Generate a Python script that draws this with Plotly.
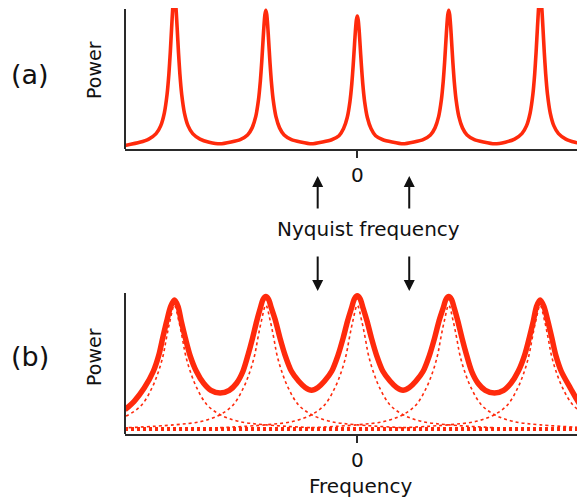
import plotly.graph_objects as go

# ---------------- data ----------------
# (a) narrow spectral peaks (frequency in units of peak spacing, power normalised)
top_freq = [-2.54, -2.38, -2.28, -2.20, -2.15, -2.11, -2.08, -2.06, -2.045, -2.03, -2.02, -2.01, -2.00,
            -1.99, -1.98, -1.97, -1.955, -1.94, -1.92, -1.89, -1.85, -1.80, -1.72, -1.62,
            -1.50,
            -1.38, -1.28, -1.20, -1.15, -1.11, -1.08, -1.06, -1.045, -1.03, -1.02, -1.01, -1.00,
            -0.99, -0.98, -0.97, -0.955, -0.94, -0.92, -0.89, -0.85, -0.80, -0.72, -0.62,
            -0.50,
            -0.38, -0.28, -0.20, -0.15, -0.11, -0.08, -0.06, -0.045, -0.03, -0.02, -0.01, 0.00,
            0.01, 0.02, 0.03, 0.045, 0.06, 0.08, 0.11, 0.15, 0.20, 0.28, 0.38,
            0.50,
            0.62, 0.72, 0.80, 0.85, 0.89, 0.92, 0.94, 0.955, 0.97, 0.98, 0.99, 1.00,
            1.01, 1.02, 1.03, 1.045, 1.06, 1.08, 1.11, 1.15, 1.20, 1.28, 1.38,
            1.50,
            1.62, 1.72, 1.80, 1.85, 1.89, 1.92, 1.94, 1.955, 1.97, 1.98, 1.99, 2.00,
            2.01, 2.02, 2.03, 2.045, 2.06, 2.08, 2.11, 2.15, 2.20, 2.28, 2.38, 2.49]
top_power = [0.025, 0.048, 0.071, 0.110, 0.165, 0.257, 0.390, 0.537, 0.689, 0.868, 0.983, 1.068, 1.10,
             1.068, 0.983, 0.868, 0.689, 0.537, 0.390, 0.257, 0.165, 0.110, 0.071, 0.049,
             0.037,
             0.050, 0.067, 0.100, 0.151, 0.233, 0.353, 0.485, 0.621, 0.782, 0.885, 0.961, 0.99,
             0.961, 0.885, 0.782, 0.621, 0.485, 0.353, 0.233, 0.151, 0.100, 0.067, 0.050,
             0.037,
             0.050, 0.066, 0.095, 0.146, 0.225, 0.340, 0.466, 0.597, 0.750, 0.850, 0.922, 0.95,
             0.922, 0.850, 0.750, 0.597, 0.466, 0.340, 0.225, 0.146, 0.095, 0.066, 0.050,
             0.037,
             0.050, 0.067, 0.100, 0.151, 0.233, 0.353, 0.485, 0.621, 0.782, 0.885, 0.961, 0.99,
             0.961, 0.885, 0.782, 0.621, 0.485, 0.353, 0.233, 0.151, 0.100, 0.067, 0.050,
             0.037,
             0.049, 0.071, 0.110, 0.165, 0.257, 0.390, 0.537, 0.689, 0.868, 0.983, 1.068, 1.10,
             1.068, 0.983, 0.868, 0.689, 0.537, 0.390, 0.257, 0.165, 0.110, 0.071, 0.048, 0.033]

# (b) broad peaks: total power
sum_freq = [-2.54, -2.44, -2.33, -2.23, -2.17, -2.128, -2.084, -2.04, -2.00,
            -1.96, -1.925, -1.88, -1.83, -1.76, -1.68, -1.60, -1.50,
            -1.40, -1.32, -1.25, -1.195, -1.145, -1.10, -1.06, -1.03, -1.00,
            -0.97, -0.94, -0.893, -0.845, -0.79, -0.72, -0.64, -0.57, -0.50,
            -0.43, -0.36, -0.28, -0.21, -0.155, -0.107, -0.063, -0.03, 0.00,
            0.03, 0.063, 0.107, 0.155, 0.21, 0.28, 0.36, 0.43, 0.50,
            0.57, 0.64, 0.72, 0.79, 0.845, 0.893, 0.94, 0.97, 1.00,
            1.03, 1.06, 1.10, 1.145, 1.195, 1.25, 1.32, 1.40, 1.50,
            1.60, 1.68, 1.76, 1.83, 1.88, 1.925, 1.96, 2.00,
            2.04, 2.084, 2.128, 2.17, 2.23, 2.33, 2.44, 2.49]
sum_power = [0.172, 0.232, 0.326, 0.445, 0.56, 0.68, 0.80, 0.905, 0.95,
             0.905, 0.80, 0.68, 0.56, 0.445, 0.36, 0.31, 0.29,
             0.31, 0.36, 0.445, 0.56, 0.68, 0.80, 0.894, 0.955, 0.975,
             0.955, 0.894, 0.80, 0.68, 0.56, 0.445, 0.374, 0.33, 0.31,
             0.33, 0.374, 0.445, 0.56, 0.68, 0.80, 0.894, 0.96, 0.98,
             0.96, 0.894, 0.80, 0.68, 0.56, 0.445, 0.374, 0.33, 0.31,
             0.33, 0.374, 0.445, 0.56, 0.68, 0.80, 0.894, 0.955, 0.975,
             0.955, 0.894, 0.80, 0.68, 0.56, 0.445, 0.36, 0.31, 0.29,
             0.31, 0.36, 0.445, 0.56, 0.68, 0.80, 0.905, 0.95,
             0.905, 0.80, 0.68, 0.56, 0.445, 0.326, 0.205, 0.175]

# (b) individual components (same read profile around each centre)
comp_centres = [-2, -1, 0, 1, 2]
comp_offset = [-1.5, -1.0, -0.7, -0.5, -0.355, -0.246, -0.173, -0.122, -0.087, -0.049, 0.0,
               0.049, 0.087, 0.122, 0.173, 0.246, 0.355, 0.5, 0.7, 1.0, 1.5]
comp_power = [0.045, 0.065, 0.09, 0.137, 0.208, 0.326, 0.445, 0.56, 0.68, 0.80, 0.913,
              0.80, 0.68, 0.56, 0.445, 0.326, 0.208, 0.137, 0.09, 0.065, 0.045]
floor_levels = [0.028, 0.042]

nyquist_freq = [-0.433, 0.568]
tick_vals = [0]
tick_text = ["0"]

X_RANGE = [-2.54, 2.49]
RED = "rgb(255,42,12)"
AX = "#2a2a2a"
FONT = "DejaVu Sans"

# page offset of the figure inside the browser window (body margin)
OFF = 8
W, H = 585 - OFF, 500 - OFF

def py(p):  # reference pixel row -> paper y
    return 1 - (p - OFF) / H

def px(p):  # reference pixel column -> paper x
    return (p - OFF) / W

fig = go.Figure()

fig.add_trace(go.Scatter(x=top_freq, y=top_power, mode="lines",
                         line=dict(color=RED, width=3.6, shape="spline", smoothing=0.5),
                         xaxis="x", yaxis="y", showlegend=False))

xmin, xmax = X_RANGE
for lvl in floor_levels:
    fig.add_trace(go.Scatter(x=[xmin, xmax], y=[lvl, lvl], mode="lines",
                             line=dict(color=RED, width=2, dash="dot"), xaxis="x2", yaxis="y2", showlegend=False))
for c in comp_centres:
    fig.add_trace(go.Scatter(x=[c + o for o in comp_offset], y=comp_power, mode="lines",
                             line=dict(color=RED, width=1.6, dash="dot", shape="spline"),
                             xaxis="x2", yaxis="y2", showlegend=False))
fig.add_trace(go.Scatter(x=sum_freq, y=sum_power, mode="lines",
                         line=dict(color=RED, width=5.5, shape="spline", smoothing=0.8),
                         xaxis="x2", yaxis="y2", showlegend=False))

axis_common = dict(range=X_RANGE, showgrid=False, zeroline=False, showline=True, linecolor=AX, linewidth=2,
                   tickmode="array", tickvals=tick_vals, ticktext=tick_text, ticks="outside",
                   ticklen=7, tickwidth=2, tickcolor=AX, tickfont=dict(family=FONT, size=20, color="#111"),
                   fixedrange=True)

top_bottom_px, top_top_px = 149, OFF
bot_bottom_px, bot_top_px = 434, 285
top_unit_px = 140
bot_unit_px = 141

fig.update_layout(
    width=W, height=H, margin=dict(l=0, r=0, t=0, b=0),
    paper_bgcolor="white", plot_bgcolor="white",
    xaxis=dict(domain=[px(125), 1], anchor="y", **axis_common),
    yaxis=dict(domain=[py(top_bottom_px), py(top_top_px)], anchor="x",
               range=[0, (top_bottom_px - top_top_px) / top_unit_px],
               showgrid=False, zeroline=False, showticklabels=False, showline=False, ticks=""),
    xaxis2=dict(domain=[px(125), 1], anchor="y2", **axis_common),
    yaxis2=dict(domain=[py(bot_bottom_px), py(bot_top_px)], anchor="x2",
                range=[0, (bot_bottom_px - bot_top_px) / bot_unit_px],
                showgrid=False, zeroline=False, showticklabels=False, showline=False, ticks=""),
)

# vertical axis lines (y from 0 to 1)
fig.add_shape(type="line", xref="x domain", yref="y", x0=0, x1=0, y0=0, y1=1,
              line=dict(color=AX, width=2))
fig.add_shape(type="line", xref="x2 domain", yref="y2", x0=0, x1=0, y0=0, y1=1,
              line=dict(color=AX, width=2))

ann = []
def text(x, y, s, size, angle=0):
    ann.append(dict(x=x, y=y, xref="paper", yref="paper", text=s, showarrow=False,
                    font=dict(family=FONT, size=size, color="#111"), textangle=angle,
                    xanchor="center", yanchor="middle"))

text(px(30), py(74), "(a)", 27)
text(px(30), py(356), "(b)", 27)
text(px(94), py(70), "Power", 19, -90)
text(px(94), py(357), "Power", 19, -90)
text(px(368), py(229), "Nyquist frequency", 20)
text(px(361), py(486), "Frequency", 20)

for f in nyquist_freq:
    # up arrows under panel (a)
    ann.append(dict(x=f, y=py(176), xref="x", yref="paper", text="", showarrow=True,
                    ax=0, ay=34, arrowhead=2, arrowsize=1.1, arrowwidth=2, arrowcolor="#111"))
    # down arrows above panel (b)
    ann.append(dict(x=f, y=py(291), xref="x2", yref="paper", text="", showarrow=True,
                    ax=0, ay=-36, arrowhead=2, arrowsize=1.1, arrowwidth=2, arrowcolor="#111"))

fig.update_layout(annotations=ann)

fig.write_html("out.html")
